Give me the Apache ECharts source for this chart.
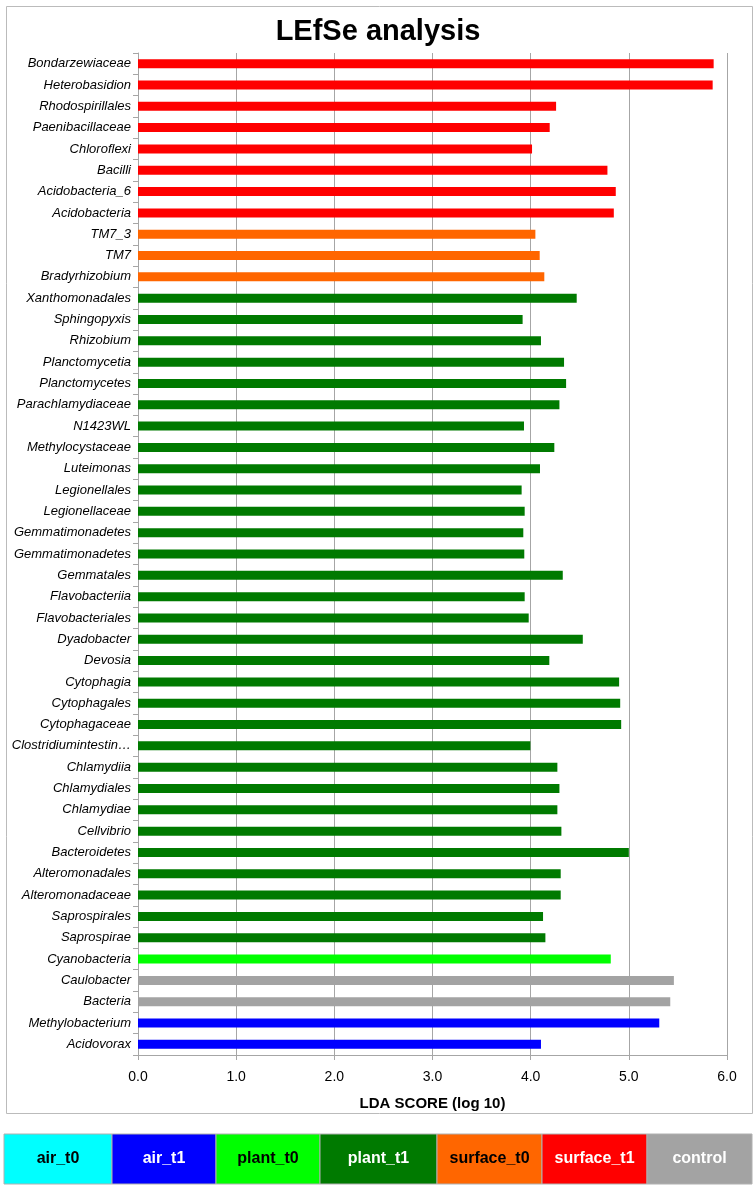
<!DOCTYPE html>
<html>
<head>
<meta charset="utf-8">
<script src="https://cdn.jsdelivr.net/npm/echarts@6/dist/echarts.min.js"></script>
<style>
html,body{margin:0;padding:0;background:#fff;}
#chart{width:756px;height:1187px;}
</style>
</head>
<body>
<div id="chart"></div>
<script>
var categories = ["Bondarzewiaceae","Heterobasidion","Rhodospirillales","Paenibacillaceae","Chloroflexi","Bacilli","Acidobacteria_6","Acidobacteria","TM7_3","TM7","Bradyrhizobium","Xanthomonadales","Sphingopyxis","Rhizobium","Planctomycetia","Planctomycetes","Parachlamydiaceae","N1423WL","Methylocystaceae","Luteimonas","Legionellales","Legionellaceae","Gemmatimonadetes","Gemmatimonadetes","Gemmatales","Flavobacteriia","Flavobacteriales","Dyadobacter","Devosia","Cytophagia","Cytophagales","Cytophagaceae","Clostridiumintestin\u2026","Chlamydiia","Chlamydiales","Chlamydiae","Cellvibrio","Bacteroidetes","Alteromonadales","Alteromonadaceae","Saprospirales","Saprospirae","Cyanobacteria","Caulobacter","Bacteria","Methylobacterium","Acidovorax"];
var ldaScores = [5.864,5.854,4.259,4.194,4.014,4.782,4.867,4.847,4.048,4.092,4.139,4.469,3.918,4.105,4.340,4.361,4.293,3.932,4.241,4.095,3.908,3.939,3.925,3.935,4.327,3.939,3.980,4.531,4.190,4.901,4.912,4.922,3.997,4.272,4.293,4.272,4.313,5.000,4.306,4.306,4.126,4.150,4.816,5.459,5.422,5.310,4.105];
var groups = ["surface_t1","surface_t1","surface_t1","surface_t1","surface_t1","surface_t1","surface_t1","surface_t1","surface_t0","surface_t0","surface_t0","plant_t1","plant_t1","plant_t1","plant_t1","plant_t1","plant_t1","plant_t1","plant_t1","plant_t1","plant_t1","plant_t1","plant_t1","plant_t1","plant_t1","plant_t1","plant_t1","plant_t1","plant_t1","plant_t1","plant_t1","plant_t1","plant_t1","plant_t1","plant_t1","plant_t1","plant_t1","plant_t1","plant_t1","plant_t1","plant_t1","plant_t1","plant_t0","control","control","air_t1","air_t1"];
var legendNames = ["air_t0","air_t1","plant_t0","plant_t1","surface_t0","surface_t1","control"];
var xTicks = [0,1,2,3,4,5,6];

var groupColors = {air_t0:"#00FFFF",air_t1:"#0000FF",plant_t0:"#00FF00",plant_t1:"#007A00",surface_t0:"#FF6600",surface_t1:"#FF0000",control:"#A3A3A3"};
var legendTextColors = {air_t0:"#000",air_t1:"#fff",plant_t0:"#000",plant_t1:"#fff",surface_t0:"#000",surface_t1:"#fff",control:"#fff"};
var legendEdges = [4,112,216,320,437,542,647,752];

var chart = echarts.init(document.getElementById('chart'));
var barData = ldaScores.map(function(v,i){return {value:v,itemStyle:{color:groupColors[groups[i]]}};});

var graphics = [{
  type:'rect', left:4, top:4, shape:{width:746,height:1107},
  style:{fill:'none',stroke:'#BBBBBB',lineWidth:1}, silent:true, z:-1
}];
legendNames.forEach(function(n,i){
  var x0 = legendEdges[i], x1 = legendEdges[i+1];
  graphics.push({
    type:'rect', shape:{x:x0,y:1134,width:x1-x0,height:50},
    style:{fill:groupColors[n],stroke:'#B0B0B0',lineWidth:1}
  });
  graphics.push({
    type:'text', x:(x0+x1)/2, y:1159,
    style:{text:n,fill:legendTextColors[n],font:'bold 16px "Liberation Sans Narrow","Liberation Sans",Arial,sans-serif',align:'center',verticalAlign:'middle'}
  });
});

chart.setOption({
  animation:false,
  backgroundColor:'#fff',
  title:{
    text:'LEfSe analysis', left:'center', top:17, padding:0,
    textStyle:{fontSize:29,fontWeight:'bold',color:'#000',fontFamily:'"Liberation Sans",Arial,sans-serif'}
  },
  grid:{left:138,right:29,top:53,bottom:132,containLabel:false},
  xAxis:{
    type:'value', min:0, max:6, interval:1,
    name:'LDA SCORE (log 10)', nameLocation:'middle', nameGap:41,
    nameTextStyle:{fontSize:15,fontWeight:'bold',color:'#000',fontFamily:'"Liberation Sans Narrow","Liberation Sans",Arial,sans-serif'},
    axisLine:{show:true,lineStyle:{color:'#A6A6A6',width:1}},
    axisTick:{show:true,length:5,lineStyle:{color:'#A6A6A6'}},
    axisLabel:{margin:15,fontSize:14,color:'#000',fontFamily:'"Liberation Sans Narrow","Liberation Sans",Arial,sans-serif',formatter:function(v){return v.toFixed(1);}},
    splitLine:{show:true,lineStyle:{color:'#A6A6A6',width:1}}
  },
  yAxis:{
    type:'category', data:categories, inverse:true,
    axisLine:{show:true,lineStyle:{color:'#A6A6A6',width:1}},
    axisTick:{show:true,length:5,lineStyle:{color:'#A6A6A6'}},
    axisLabel:{margin:7,fontSize:13,fontStyle:'italic',color:'#000',fontFamily:'"Liberation Sans",Arial,sans-serif',interval:0},
    splitLine:{show:false}
  },
  series:[{
    type:'bar', data:barData, barWidth:9, silent:true
  }],
  graphic:graphics
});
</script>
</body>
</html>
